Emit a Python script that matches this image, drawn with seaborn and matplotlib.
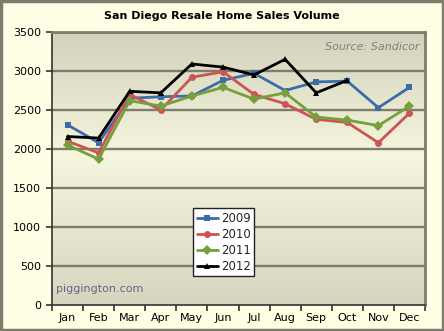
import numpy as np
import pandas as pd
import matplotlib
matplotlib.use("Agg")
import matplotlib.pyplot as plt
import seaborn as sns
from matplotlib.colors import LinearSegmentedColormap

months = ["Jan", "Feb", "Mar", "Apr", "May", "Jun", "Jul", "Aug", "Sep", "Oct", "Nov", "Dec"]
sales_2009 = [2310, 2080, 2650, 2670, 2680, 2880, 2970, 2750, 2860, 2870, 2530, 2790]
sales_2010 = [2100, 1950, 2700, 2500, 2920, 2990, 2700, 2580, 2380, 2340, 2080, 2460]
sales_2011 = [2050, 1870, 2620, 2550, 2680, 2790, 2640, 2720, 2410, 2370, 2300, 2550]
sales_2012 = [2160, 2140, 2740, 2720, 3090, 3050, 2950, 3150, 2720, 2880]
years = ["2009", "2010", "2011", "2012"]

rows = []
for yr, vals in zip(years, [sales_2009, sales_2010, sales_2011, sales_2012]):
    for i, v in enumerate(vals):
        rows.append({"month": i, "year": yr, "sales": v})
df = pd.DataFrame(rows)

sns.set_theme(style="white")
plt.rcParams['font.family'] = ['DejaVu Sans']

fig = plt.figure(figsize=(4.44, 3.31), dpi=100, facecolor="#FFFFE6")
ax = fig.add_axes([52/444, 26/331, 373/444, 273/331])

# gradient background
cmap = LinearSegmentedColormap.from_list("bg", [(0.0, "#D6D6C0"), (0.55, "#F6F6DE"), (1.0, "#D2D2BC")])
grad = np.linspace(0, 1, 256).reshape(-1, 1)
ax.imshow(grad, aspect="auto", cmap=cmap, extent=[0, 1, 0, 1], transform=ax.transAxes,
          origin="lower", zorder=0)

palette = {"2009": "#3D6CA8", "2010": "#CC5553", "2011": "#76A03E", "2012": "#000000"}
markers = {"2009": "s", "2010": "o", "2011": "D", "2012": "^"}
sns.lineplot(data=df, x="month", y="sales", hue="year", style="year", palette=palette,
             markers=markers, dashes=False, linewidth=2, markersize=5,
             markeredgewidth=0, ax=ax, zorder=3)

ax.set_xlim(-0.5, 11.5)
ax.set_ylim(0, 3500)
ax.set_yticks(range(0, 3501, 500))
ax.set_xticks(range(12))
ax.set_xticklabels(months)
ax.set_xlabel("")
ax.set_ylabel("")
for y in range(500, 3501, 500):
    ax.axhline(y, color="#7D7D6E", linewidth=1.7, zorder=1)

for s in ["left", "bottom"]:
    ax.spines[s].set_color("#333333")
    ax.spines[s].set_linewidth(1.2)
for s in ["top", "right"]:
    ax.spines[s].set_color("#7D7D6E")
    ax.spines[s].set_linewidth(2)

ax.set_xticks(np.arange(-0.5, 12, 1), minor=True)
ax.tick_params(axis="x", which="major", length=0, labelsize=8, pad=6, colors="#000000")
ax.tick_params(axis="x", which="minor", length=4, width=1.2, color="#333333", direction="out")
ax.tick_params(axis="y", length=4, width=1.2, color="#333333", direction="out", labelsize=8,
               pad=4, labelcolor="#000000")
ax.tick_params(bottom=True, left=True, which="both")

fig.text(0.5, 0.953, "San Diego Resale Home Sales Volume", ha="center", va="center",
         fontsize=8, fontweight="bold", color="#000000")
ax.text(0.985, 0.965, "Source: Sandicor", transform=ax.transAxes, ha="right", va="top",
        fontsize=8, style="italic", color="#808080")
ax.text(0.012, 0.06, "piggington.com", transform=ax.transAxes, ha="left", va="center",
        fontsize=8, color="#65658A")

leg = ax.legend(loc="lower left", bbox_to_anchor=(0.378, 0.105), frameon=True, fancybox=False,
                fontsize=8.5, handlelength=1.8, handletextpad=0.25, borderpad=0.3,
                labelspacing=0.25, borderaxespad=0)
leg.get_frame().set_edgecolor("#222222")
leg.get_frame().set_facecolor("white")
leg.get_frame().set_linewidth(1)
leg.get_frame().set_alpha(1)
leg.set_zorder(5)

# outer frame
fig.patches.append(plt.Rectangle((0.002, 0.003), 0.996, 0.994, transform=fig.transFigure,
                                 fill=False, edgecolor="#7D7D6E", linewidth=2.5))

fig.savefig("out.png", dpi=100, facecolor=fig.get_facecolor())
